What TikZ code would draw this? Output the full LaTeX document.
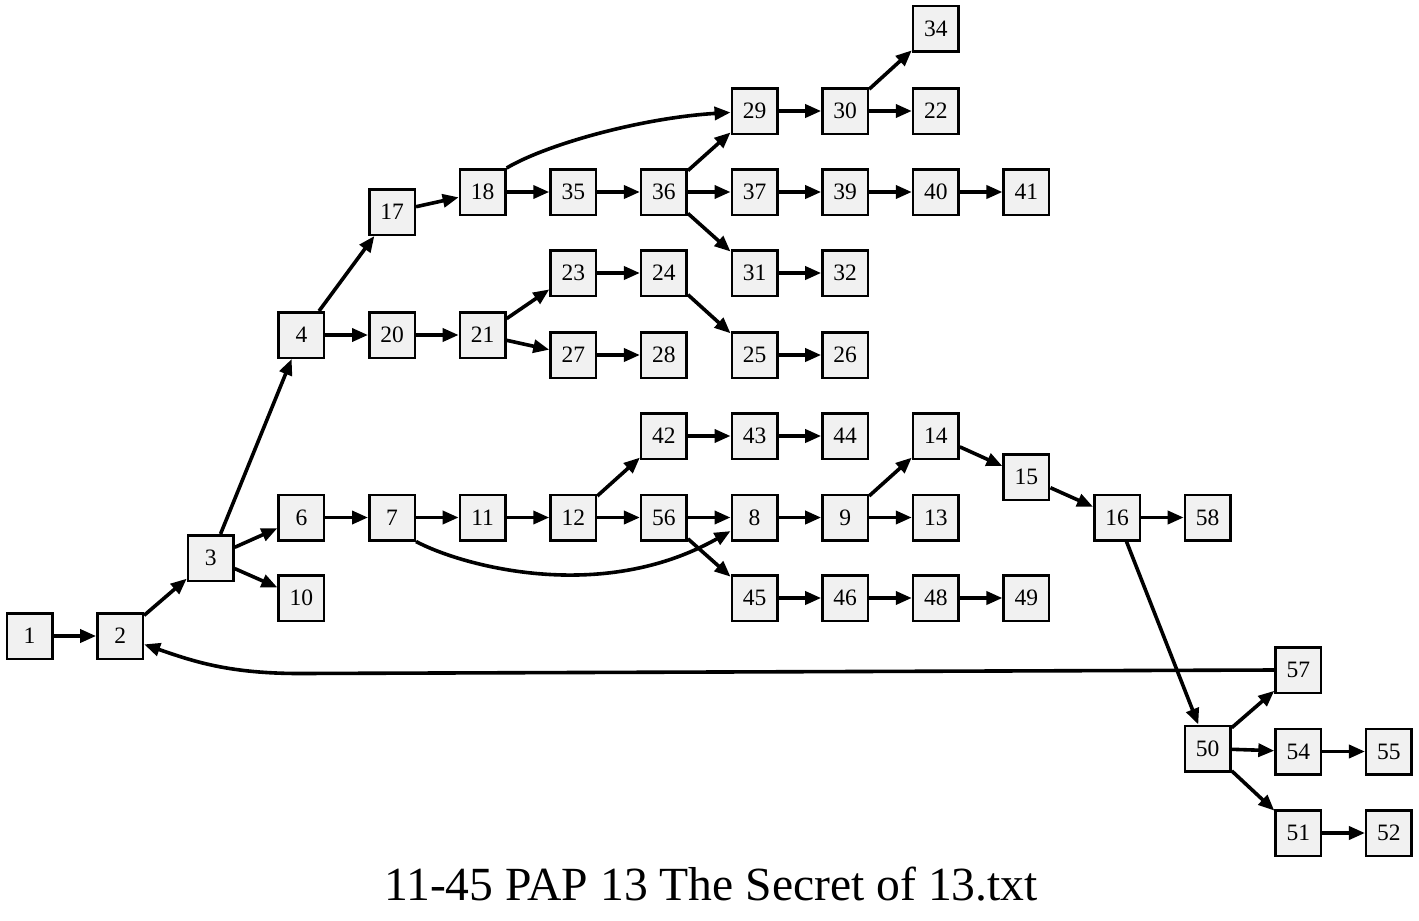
\documentclass[tikz,border=0pt]{standalone}
\usepackage{fontspec}
\setmainfont{Liberation Serif}
\usetikzlibrary{arrows.meta}
\begin{document}
\begin{tikzpicture}[x=1pt,y=-1pt,
  box/.style={draw=black,line width=2.5pt,fill=gray!11,minimum size=45.5pt,inner sep=0pt,
    font=\fontsize{23.5}{26}\selectfont},
  edge/.style={line width=3.6pt,-{Triangle[length=16pt,width=13pt]}}]
\useasboundingbox (0,0) rectangle (1419,921);
% column spacing of the layered layout
\def\cx#1{29.5+90.63*#1}
\node[box] (n1)  at ({\cx{0}},636) {1};
\node[box] (n2)  at ({\cx{1}},636) {2};
\node[box] (n3)  at ({\cx{2}},558) {3};
\node[box] (n4)  at ({\cx{3}},335) {4};
\node[box] (n6)  at ({\cx{3}},517.5) {6};
\node[box] (n10) at ({\cx{3}},598) {10};
\node[box] (n17) at ({\cx{4}},212) {17};
\node[box] (n20) at ({\cx{4}},335) {20};
\node[box] (n7)  at ({\cx{4}},517.5) {7};
\node[box] (n18) at ({\cx{5}},192) {18};
\node[box] (n21) at ({\cx{5}},335) {21};
\node[box] (n11) at ({\cx{5}},517.5) {11};
\node[box] (n35) at ({\cx{6}},192) {35};
\node[box] (n23) at ({\cx{6}},273) {23};
\node[box] (n27) at ({\cx{6}},355) {27};
\node[box] (n12) at ({\cx{6}},517.5) {12};
\node[box] (n36) at ({\cx{7}},192) {36};
\node[box] (n24) at ({\cx{7}},273) {24};
\node[box] (n28) at ({\cx{7}},355) {28};
\node[box] (n42) at ({\cx{7}},436) {42};
\node[box] (n56) at ({\cx{7}},517.5) {56};
\node[box] (n29) at ({\cx{8}},111) {29};
\node[box] (n37) at ({\cx{8}},192) {37};
\node[box] (n31) at ({\cx{8}},273) {31};
\node[box] (n25) at ({\cx{8}},355) {25};
\node[box] (n43) at ({\cx{8}},436) {43};
\node[box] (n8)  at ({\cx{8}},517.5) {8};
\node[box] (n45) at ({\cx{8}},598) {45};
\node[box] (n30) at ({\cx{9}},111) {30};
\node[box] (n39) at ({\cx{9}},192) {39};
\node[box] (n32) at ({\cx{9}},273) {32};
\node[box] (n26) at ({\cx{9}},355) {26};
\node[box] (n44) at ({\cx{9}},436) {44};
\node[box] (n9)  at ({\cx{9}},517.5) {9};
\node[box] (n46) at ({\cx{9}},598) {46};
\node[box] (n34) at ({\cx{10}},28.5) {34};
\node[box] (n22) at ({\cx{10}},111) {22};
\node[box] (n40) at ({\cx{10}},192) {40};
\node[box] (n14) at ({\cx{10}},436) {14};
\node[box] (n13) at ({\cx{10}},517.5) {13};
\node[box] (n48) at ({\cx{10}},598) {48};
\node[box] (n41) at ({\cx{11}},192) {41};
\node[box] (n15) at ({\cx{11}},477) {15};
\node[box] (n49) at ({\cx{11}},598) {49};
\node[box] (n16) at ({\cx{12}},517.5) {16};
\node[box] (n58) at ({\cx{13}},517.5) {58};
\node[box] (n50) at ({\cx{13}},748.5) {50};
\node[box] (n57) at ({\cx{14}},670) {57};
\node[box] (n54) at ({\cx{14}},751.5) {54};
\node[box] (n51) at ({\cx{14}},833) {51};
\node[box] (n55) at ({\cx{15}},751.5) {55};
\node[box] (n52) at ({\cx{15}},833) {52};

\node (title) at (711,884) {\fontsize{47.6}{50}\selectfont 11-45 PAP 13 The Secret of 13.txt};

\foreach \a/\b in {1/2,2/3,3/4,3/6,3/10,4/17,4/20,17/18,18/35,35/36,36/29,36/37,36/31,
  29/30,30/34,30/22,37/39,39/40,40/41,31/32,20/21,21/23,21/27,23/24,24/25,25/26,27/28,
  6/7,7/11,11/12,12/42,12/56,42/43,43/44,56/8,56/45,45/46,46/48,48/49,8/9,9/14,9/13,
  14/15,15/16,16/58,16/50,50/57,50/54,50/51,54/55,51/52}
  \draw[edge] (n\a) -- (n\b);

% curved connectors
\draw[edge] (n18.north east) .. controls (545,145) and (640,118) .. (n29);
\draw[edge] (n7.south east) .. controls (460,565) and (600,605) .. (n8);
\coordinate (bend) at (300,673.5);
\draw[edge] (n57.west) -- (bend) .. controls (230,673.5) and (195,662) .. (n2);
\end{tikzpicture}
\end{document}
